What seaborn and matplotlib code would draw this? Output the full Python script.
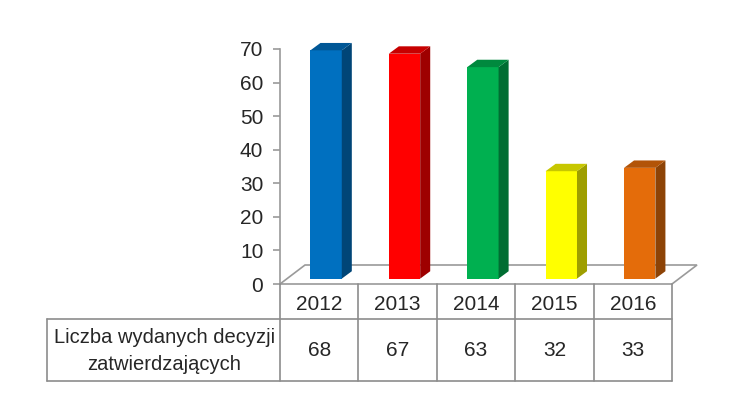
import pandas as pd
import matplotlib.pyplot as plt
import seaborn as sns
from matplotlib.patches import Polygon
from matplotlib.lines import Line2D
import matplotlib.colors as mcolors

# dane
years = ['2012', '2013', '2014', '2015', '2016']
values = [68, 67, 63, 32, 33]
colors = ['#0070C0', '#FF0000', '#00B050', '#FFFF00', '#E46C0A']
row_label = 'Liczba wydanych decyzji\nzatwierdzających'

W, H = 734, 396
sns.set_style('white')
plt.rcParams['font.family'] = ['Liberation Sans', 'DejaVu Sans']

fig = plt.figure(figsize=(W / 100, H / 100), dpi=100)

# obszar wykresu w pikselach
px0, px1 = 280, 672
py0, py1 = 284, 49
ax = fig.add_axes([px0 / W, 1 - py0 / H, (px1 - px0) / W, (py0 - py1) / H])

df = pd.DataFrame({'rok': years, 'liczba': values})
sns.barplot(data=df, x='rok', y='liczba', hue='rok', palette=colors, legend=False,
            width=0.4, saturation=1, linewidth=0, ax=ax)
ax.set_xlim(-0.5, 4.5)
ax.set_ylim(0, 70)
ax.set_yticks(range(0, 71, 10))
ax.set_xticks([])
ax.set_xlabel('')
ax.set_ylabel('')

gray = '#9a9a9a'
for s in ['top', 'right', 'bottom']:
    ax.spines[s].set_visible(False)
ax.spines['left'].set_color(gray)
ax.spines['left'].set_linewidth(1.2)
ax.tick_params(axis='y', left=True, length=5, width=1.2, color=gray,
               labelsize=15, pad=7)

# efekt 3D - podloga
fdx, fdy = 0.319, 5.66
floor = Polygon([(-0.5, 0), (-0.5 + fdx, fdy), (4.5 + fdx, fdy), (4.5, 0)],
                closed=True, fill=False, edgecolor=gray, linewidth=1.2,
                clip_on=False, zorder=0.5)
ax.add_patch(floor)

# efekt 3D - slupki
dx, dy = 0.128, 2.2
shift, lift = 0.088, 1.6
for p in list(ax.patches):
    if p is floor:
        continue
    p.set_x(p.get_x() + shift)
    p.set_y(lift)
    x, w, h = p.get_x(), p.get_width(), p.get_height()
    c = mcolors.to_rgb(p.get_facecolor())
    side = tuple(v * 0.62 for v in c)
    top = tuple(v * 0.78 for v in c)
    ax.add_patch(Polygon([(x + w, lift), (x + w + dx, lift + dy),
                          (x + w + dx, lift + h + dy), (x + w, lift + h)],
                         closed=True, facecolor=side, edgecolor='none',
                         clip_on=False, zorder=2))
    ax.add_patch(Polygon([(x, lift + h), (x + dx, lift + h + dy),
                          (x + w + dx, lift + h + dy), (x + w, lift + h)],
                         closed=True, facecolor=top, edgecolor='none',
                         clip_on=False, zorder=2))


# tabela danych
def fx(px):
    return px / W


def fy(py):
    return 1 - py / H


tab_gray = '#8c8c8c'
col_w = (px1 - px0) / len(years)
rt, rm, rb = 284, 319, 381
lx = 47


def line(xs, ys):
    fig.add_artist(Line2D([fx(v) for v in xs], [fy(v) for v in ys],
                          color=tab_gray, linewidth=1.2))


for i in range(len(years) + 1):
    xx = px0 + i * col_w
    line([xx, xx], [rt, rb])
line([lx, lx], [rm, rb])
line([lx, px1], [rm, rm])
line([lx, px1], [rb, rb])

for i, (yr, v) in enumerate(zip(years, values)):
    cx = px0 + (i + 0.5) * col_w
    fig.text(fx(cx), fy((rt + rm) / 2 + 3), yr, ha='center', va='center', fontsize=15)
    fig.text(fx(cx), fy((rm + rb) / 2 + 1), str(v), ha='center', va='center', fontsize=15)
fig.text(fx((lx + px0) / 2 + 1), fy((rm + rb) / 2 + 1), row_label, ha='center',
         va='center', fontsize=14.5, linespacing=1.5)

fig.savefig('out.png', dpi=100)
